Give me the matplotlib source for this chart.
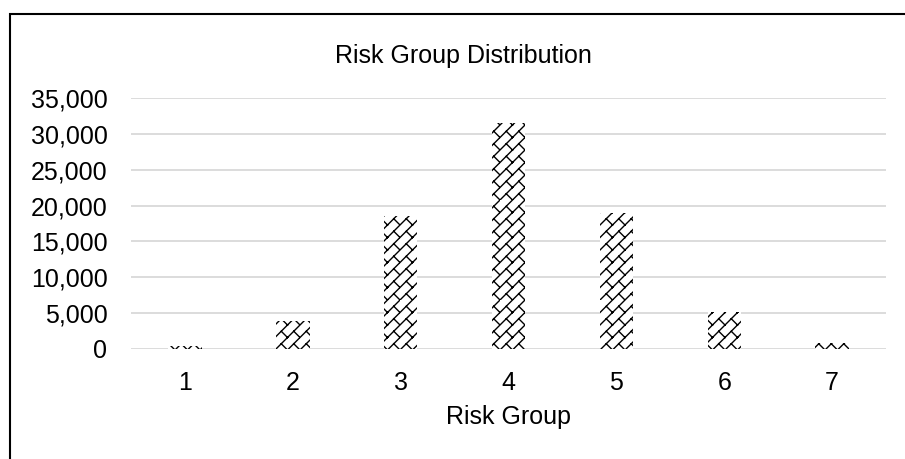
import numpy as np
import matplotlib
matplotlib.use("Agg")
import matplotlib.pyplot as plt
from matplotlib import hatch as mhatch
from matplotlib.path import Path
from matplotlib.patches import Rectangle
from matplotlib.ticker import FuncFormatter

groups = ["1", "2", "3", "4", "5", "6", "7"]
counts = [450, 3950, 18600, 31500, 19000, 5200, 800]
y_ticks = [0, 5000, 10000, 15000, 20000, 25000, 30000, 35000]


class DiagonalBrick(mhatch.HatchPatternBase):
    # upward diagonal brick: long "/" strokes with short staggered "\" joints
    def __init__(self, hatch, density):
        self.n = int(round(hatch.count('/') * density * 4 / 3))
        self.num_vertices = self.n * self.n * 4

    def set_vertices_and_codes(self, vertices, codes):
        s = 1.0 / self.n
        k = 0
        for i in range(self.n):
            for j in range(self.n):
                x0, y0 = i * s, j * s
                vertices[k:k + 4] = [(x0, y0), (x0 + s, y0 + s),
                                     (x0 + s / 2, y0 + s / 2), (x0 + s, y0)]
                codes[k:k + 4] = [Path.MOVETO, Path.LINETO,
                                  Path.MOVETO, Path.LINETO]
                k += 4


mhatch._hatch_types = [DiagonalBrick] + [
    t for t in mhatch._hatch_types if t is not mhatch.NorthEastHatch]

plt.rcParams['font.family'] = ['Liberation Sans', 'DejaVu Sans']
plt.rcParams['hatch.linewidth'] = 1.0
plt.rcParams['hatch.color'] = 'black'

fig = plt.figure(figsize=(9.05, 4.59), dpi=100)
ax = fig.add_axes([0.1448, 0.2397, 0.8342, 0.5468])

x = np.arange(len(groups))
ax.bar(x, counts, width=0.31, color='white', edgecolor='black',
       linewidth=0, hatch='/', zorder=3)

ax.set_xlim(-0.5, len(groups) - 0.5)
ax.set_ylim(0, 35000)
ax.set_yticks(y_ticks)
ax.yaxis.set_major_formatter(FuncFormatter(lambda v, p: f"{int(v):,}"))
ax.set_xticks(x)
ax.set_xticklabels(groups)
ax.grid(axis='y', color='#d9d9d9', linewidth=1.3, zorder=0)
ax.tick_params(axis='both', length=0, labelsize=18, colors='black')
ax.tick_params(axis='y', pad=17)
ax.tick_params(axis='x', pad=16)
for sp in ax.spines.values():
    sp.set_visible(False)

ax.set_xlabel("Risk Group", fontsize=18, labelpad=7)
fig.text(463 / 905, 1 - 56 / 459, "Risk Group Distribution", fontsize=18,
         ha='center', va='center')

# outer chart frame
fig.add_artist(Rectangle((9.5 / 905, -0.2), 1.5, 1.2 - 14 / 459,
                         transform=fig.transFigure, fill=False,
                         edgecolor='black', linewidth=1.5))

fig.savefig("out.png", dpi=100, facecolor='white')
